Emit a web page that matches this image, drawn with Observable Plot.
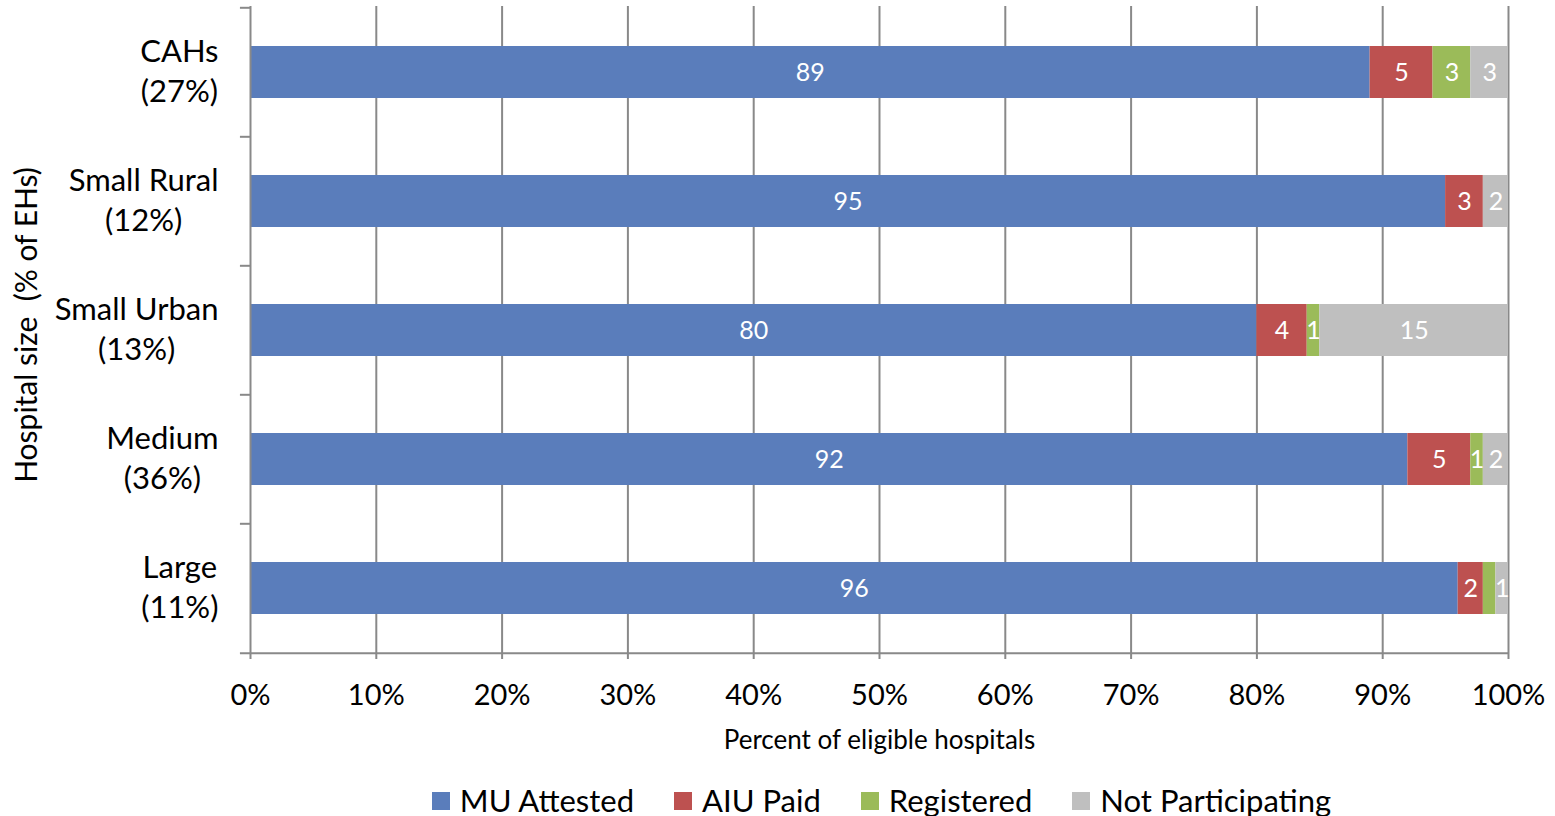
<!DOCTYPE html>
<html>
<head>
<meta charset="utf-8">
<script src="https://cdn.jsdelivr.net/npm/d3@7"></script>
<script src="https://cdn.jsdelivr.net/npm/@observablehq/plot@0.6"></script>
<style>
  html, body { margin: 0; padding: 0; background: #fff; overflow: hidden; }
  body { font-family: Lato, "Open Sans", sans-serif; }
  #chart svg text { white-space: pre; }
  #legend {
    display: flex; justify-content: center; align-items: center;
    margin-top: 15px; margin-left: 208px; font-size: 31px; color: #000; line-height: 1;
  }
  #legend .item { display: flex; align-items: center; margin: 0 20px; }
  #legend .sw { width: 18px; height: 18px; margin-right: 10px; }
</style>
</head>
<body>
<div id="chart"></div>
<div id="legend"></div>
<script>
// Hospital groups (bottom of each label shows the group's share of eligible hospitals)
const categories = ["CAHs", "Small Rural", "Small Urban", "Medium", "Large"];
const shares = [27, 12, 13, 36, 11];

// Participation status, stacked left to right
const series = ["MU Attested", "AIU Paid", "Registered", "Not Participating"];
const colors = ["#5a7dbb", "#bd5150", "#9bbb59", "#bfbfbf"];

// Percent of eligible hospitals in each status, per group
const muAttested       = [89, 95, 80, 92, 96];
const aiuPaid          = [5, 3, 4, 5, 2];
const registered       = [3, 0, 1, 1, 1];
const notParticipating = [3, 2, 15, 2, 1];

// Segments whose value is too narrow to print
const unlabeled = [["Large", "Registered"]];

const xTicks = [0, 10, 20, 30, 40, 50, 60, 70, 80, 90, 100];

const seriesValues = [muAttested, aiuPaid, registered, notParticipating];
const rows = [];
categories.forEach((c, i) => {
  series.forEach((s, j) => {
    const v = seriesValues[j][i];
    const hidden = v === 0 || unlabeled.some(([uc, us]) => uc === c && us === s);
    rows.push({category: c, series: s, value: v, label: hidden ? "" : String(v)});
  });
});

const W = 1555, H = 770;
const mt = 6, mb = 117, ml = 250, mr = 47;
const step = (H - mt - mb) / categories.length;
const axisColor = "#898989";
const tickLen = 0.8; // short outward tick, in percent units
const fontFamily = "Lato, 'Open Sans', sans-serif";

// Category labels: two centred lines, the block set flush against the axis
const catFont = 31, catGap = 32;
const ctx = document.createElement("canvas").getContext("2d");
ctx.font = `${catFont}px Lato`;
const catLines = categories.map((c, i) => [c, `(${shares[i]}%)`]);
const catMarks = catLines.map((lines, i) => {
  const w = d3.max(lines, l => ctx.measureText(l).width);
  return Plot.text([categories[i]], {
    y: d => d, text: () => lines.join("\n"),
    frameAnchor: "left", textAnchor: "middle", dx: -(catGap + w / 2), dy: -3,
    fontSize: catFont, lineHeight: 40 / catFont, fill: "#000"
  });
});

const chart = Plot.plot({
  width: W,
  height: H,
  marginTop: mt,
  marginBottom: mb,
  marginLeft: ml,
  marginRight: mr,
  style: {fontFamily, background: "#fff", color: "#000"},
  x: {domain: [0, 100], axis: null},
  y: {domain: categories, axis: null, paddingInner: 0.6, paddingOuter: 0.3},
  color: {domain: series, range: colors},
  marks: [
    // vertical gridlines
    Plot.ruleX(xTicks.filter(t => t > 0), {stroke: axisColor, strokeWidth: 2}),
    // category boundary ticks on the y axis
    Plot.ruleY(categories, {y: d => d, x1: -tickLen, x2: 0, dy: -step / 2, stroke: axisColor, strokeWidth: 2}),
    // baseline along the bottom
    Plot.ruleY([categories[categories.length - 1]], {y: d => d, x1: -tickLen, x2: 100, dy: step / 2, stroke: axisColor, strokeWidth: 2}),
    // stacked bars
    Plot.barX(rows, Plot.stackX({x: "value", y: "category", fill: "series", z: "series"})),
    // y axis line
    Plot.ruleX([0], {stroke: axisColor, strokeWidth: 2}),
    // segment value labels
    Plot.text(rows, Plot.stackX({
      x: "value", y: "category", z: "series", text: "label",
      fill: "white", fontSize: 25
    })),
    // x axis
    Plot.axisX({
      ticks: xTicks, tickSize: 6, tickPadding: 25, tickFormat: d => d + "%",
      stroke: axisColor, strokeWidth: 2, fontSize: 29, fill: "#000", label: null
    }),
    // category labels
    ...catMarks,
    // axis titles
    Plot.text(["Hospital size  (% of EHs)"], {
      frameAnchor: "left", textAnchor: "middle", rotate: -90, dx: -223, dy: -5,
      fontSize: 30, fill: "#000"
    }),
    Plot.text(["Percent of eligible hospitals"], {
      frameAnchor: "bottom", dy: 95, fontSize: 26, fill: "#000"
    })
  ]
});
document.getElementById("chart").appendChild(chart);

// legend below the chart
const legend = d3.select("#legend");
series.forEach((s, j) => {
  const item = legend.append("div").attr("class", "item");
  item.append("div").attr("class", "sw").style("background", colors[j]);
  item.append("span").text(s);
});
</script>
</body>
</html>
